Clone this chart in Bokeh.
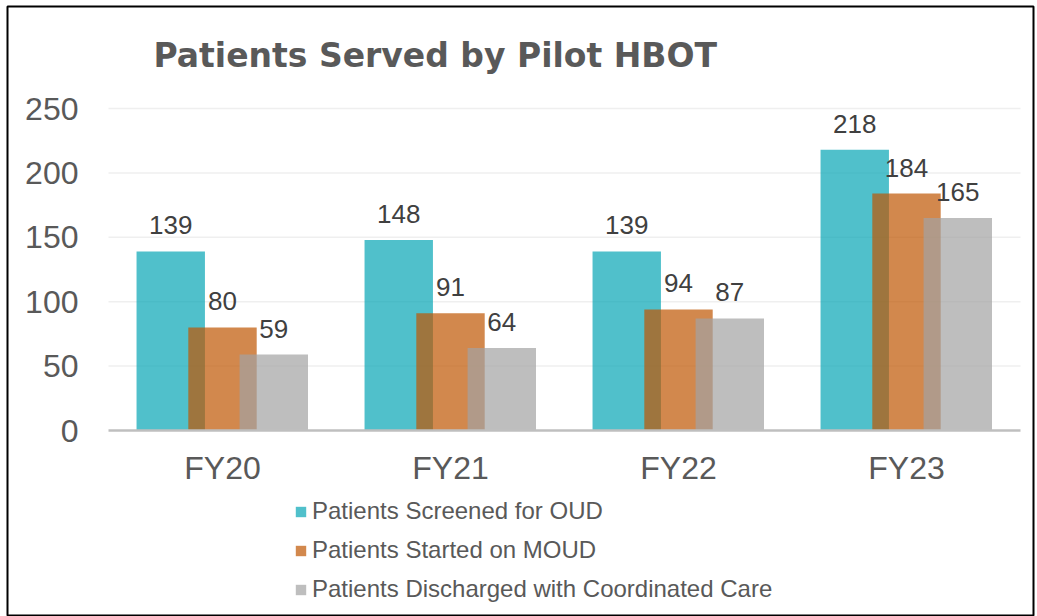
from bokeh.plotting import figure
from bokeh.models import (ColumnDataSource, Range1d, LabelSet, Label,
                          Legend, LegendItem, FixedTicker)
from bokeh.transform import dodge
from bokeh.core.properties import value
from bokeh.embed import file_html
from bokeh.resources import INLINE

# ---- data ----
categories = ["FY20", "FY21", "FY22", "FY23"]
screened = [139, 148, 139, 218]
started = [80, 91, 94, 184]
discharged = [59, 64, 87, 165]
series_names = ["Patients Screened for OUD",
                "Patients Started on MOUD",
                "Patients Discharged with Coordinated Care"]
y_ticks = [0, 50, 100, 150, 200, 250]
title_text = "Patients Served by Pilot HBOT"

n = len(categories)
centers = [i + 0.5 for i in range(n)]

src = ColumnDataSource(dict(
    xc=centers,
    screened=screened, started=started, discharged=discharged,
    screened_s=[str(v) for v in screened],
    started_s=[str(v) for v in started],
    discharged_s=[str(v) for v in discharged],
))

FONT = "Liberation Sans"
W, H = 1037, 616

# frame covers (7,6)-(1033,616); data 0..n maps to x 108..1020, 0..250 to y 430..108
p = figure(x_range=Range1d(-101 / 228, n + 13 / 228),
           y_range=Range1d(-186 / 1.288, 424 / 1.288),
           width=W, height=H,
           output_backend="svg", toolbar_location=None,
           min_border_left=7, min_border_right=4,
           min_border_top=6, min_border_bottom=0)
p.outline_line_color = "black"
p.outline_line_width = 2
p.background_fill_color = "white"
p.border_fill_color = "white"
p.xgrid.grid_line_color = None
p.ygrid.grid_line_color = None

# horizontal gridlines
grid_src = ColumnDataSource(dict(y=y_ticks[1:], x0=[0] * (len(y_ticks) - 1),
                                 x1=[n] * (len(y_ticks) - 1)))
p.segment(x0="x0", x1="x1", y0="y", y1="y", source=grid_src,
          line_color="#EFEFEF", line_width=1.5)

offsets = [-0.227, 0.0, 0.225]
fields = ["screened", "started", "discharged"]
colors = [(5, 165, 181), (191, 85, 2), (163, 163, 163)]
renderers = []
for off, f, c in zip(offsets, fields, colors):
    r = p.vbar(x=dodge("xc", off), top=f, width=0.30,
               source=src, fill_color=c, fill_alpha=0.7, line_color=None)
    renderers.append(r)

for off, f in zip(offsets, fields):
    p.add_layout(LabelSet(x=dodge("xc", off), y=f, text=f + "_s",
                          source=src, y_offset=17, text_align="center",
                          text_baseline="alphabetic", text_font=value(FONT),
                          text_font_size="26px", text_color="#404040"))

# axes (placed at data positions inside the frame)
p.yaxis.fixed_location = 0
p.yaxis.bounds = (0, 250)
p.yaxis.ticker = FixedTicker(ticks=y_ticks)
p.yaxis.axis_line_color = None
p.yaxis.major_tick_line_color = None
p.yaxis.minor_tick_line_color = None
p.yaxis.major_tick_out = 0
p.yaxis.major_tick_in = 0
p.yaxis.major_label_standoff = 30
p.yaxis.major_label_text_font = FONT
p.yaxis.major_label_text_font_size = "32px"
p.yaxis.major_label_text_color = "#595959"

p.xaxis.fixed_location = 0
p.xaxis.bounds = (0, n)
p.xaxis.ticker = FixedTicker(ticks=centers)
p.xaxis.major_label_overrides = {c: lab for c, lab in zip(centers, categories)}
p.xaxis.axis_line_color = "#BFBFBF"
p.xaxis.axis_line_width = 2.5
p.xaxis.major_tick_line_color = None
p.xaxis.minor_tick_line_color = None
p.xaxis.major_tick_out = 0
p.xaxis.major_tick_in = 0
p.xaxis.major_label_standoff = 19
p.xaxis.major_label_text_font = FONT
p.xaxis.major_label_text_font_size = "32px"
p.xaxis.major_label_text_color = "#595959"

# title
p.add_layout(Label(x=146, y=H - 6 - 49, x_units="screen", y_units="screen", text=title_text,
                   text_font="DejaVu Sans", text_font_style="bold",
                   text_font_size="33px", text_color="#595959",
                   text_baseline="alphabetic"))

legend = Legend(items=[LegendItem(label=nm, renderers=[r]) for nm, r in zip(series_names, renderers)],
                location=(287, 13), orientation="vertical",
                glyph_width=13, glyph_height=13, label_height=26, label_standoff=5,
                spacing=11, padding=0, margin=0,
                border_line_color=None, background_fill_alpha=0,
                label_text_font=FONT, label_text_font_size="24px",
                label_text_color="#595959")
p.add_layout(legend)

open("out.html", "w").write(file_html(p, INLINE))
